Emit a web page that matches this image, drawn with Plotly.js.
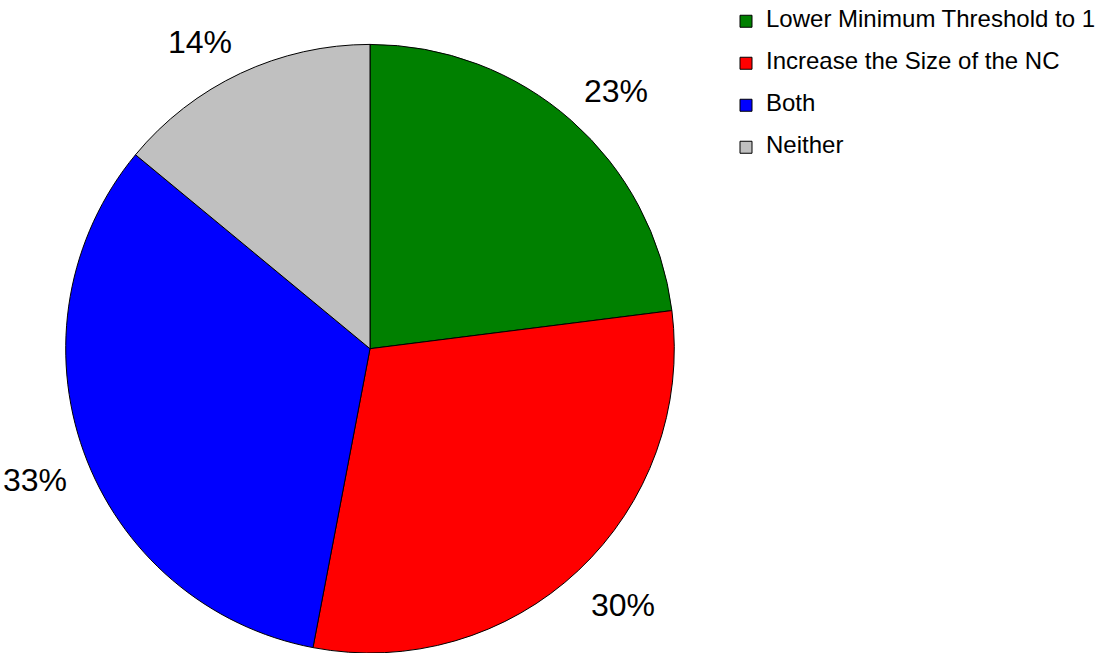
<!DOCTYPE html>
<html>
<head>
<meta charset="utf-8">
<script src="https://cdn.plot.ly/plotly-3.0.1.min.js"></script>
<style>
html,body{margin:0;padding:0;background:#fff;}
#chart{width:1114px;height:653px;}
</style>
</head>
<body>
<div id="chart"></div>
<script>
const categories = ["Lower Minimum Threshold to 1", "Increase the Size of the NC", "Both", "Neither"];
const values = [23, 30, 33, 14];
const colors = ["#008000", "#ff0000", "#0000ff", "#c0c0c0"];

const W = 1114, H = 653;
const domX = [0, 740 / W];
const domY = [0, 0.932];

// pie geometry in px (plot area == full page, zero margins)
const cx = (domX[0] + domX[1]) / 2 * W;
const pieH = (domY[1] - domY[0]) * H;
const r = Math.min((domX[1] - domX[0]) * W, pieH) / 2;
const cy = H - (domY[0] * H + pieH / 2);

const total = values.reduce((a, b) => a + b, 0);
const annotations = [];
let cum = 0;
const gap = 16;
values.forEach((v, i) => {
  const mid = (cum + v / 2) / total * 2 * Math.PI;
  cum += v;
  const dx = Math.sin(mid), dy = -Math.cos(mid);
  const px = cx + (r + gap) * dx;
  const py = cy + (r + gap) * dy + 3;
  annotations.push({
    xref: 'paper', yref: 'paper',
    x: px / W, y: 1 - py / H,
    xanchor: dx >= 0 ? 'left' : 'right',
    yanchor: dy <= 0 ? 'bottom' : 'top',
    text: Math.round(v / total * 100) + '%',
    showarrow: false,
    font: {family: 'Liberation Sans, Arial, sans-serif', size: 32, color: '#000'}
  });
});

const data = [{
  type: 'pie',
  values: values,
  labels: categories.map(c => '<span style="font-size:24px">' + c + '</span><br> '),
  marker: {colors: colors, line: {color: '#000', width: 1}},
  sort: false,
  direction: 'clockwise',
  rotation: 0,
  textinfo: 'none',
  hoverinfo: 'label+percent',
  domain: {x: domX, y: domY}
}];

const layout = {
  width: W, height: H,
  margin: {l: 0, r: 0, t: 0, b: 0},
  paper_bgcolor: '#fff',
  plot_bgcolor: '#fff',
  showlegend: true,
  legend: {
    x: 726 / W, xanchor: 'left',
    y: 1 - 5 / H, yanchor: 'top',
    valign: 'top',
    font: {family: 'Liberation Sans, Arial, sans-serif', size: 15, color: '#000'},
    bgcolor: 'rgba(0,0,0,0)'
  },
  annotations: annotations
};

Plotly.newPlot('chart', data, layout, {displayModeBar: false, staticPlot: true});
</script>
</body>
</html>
